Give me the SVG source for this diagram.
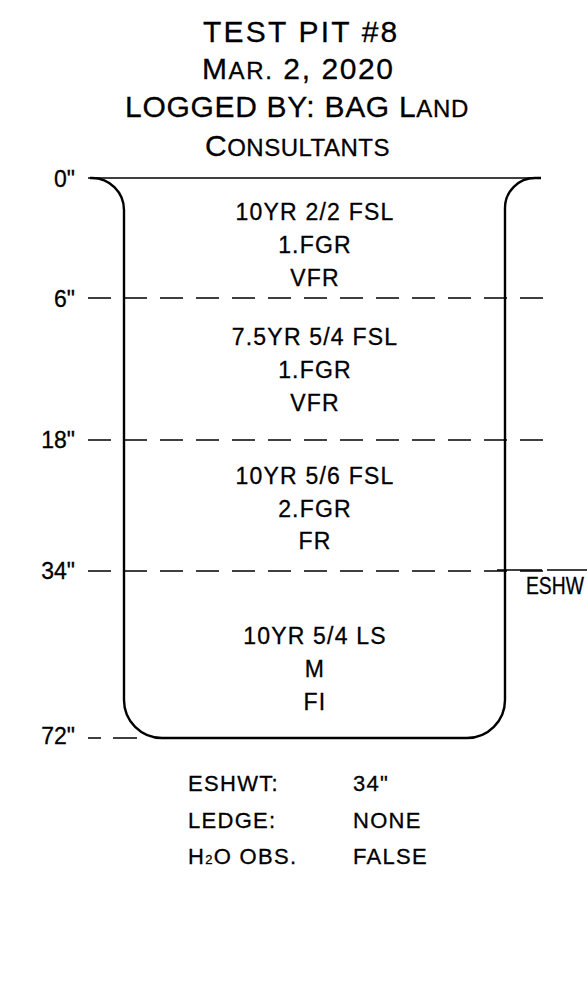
<svg xmlns="http://www.w3.org/2000/svg" width="587" height="991" viewBox="0 0 587 991">
<style>
  text { font-family: "Liberation Sans", Arial, sans-serif; fill: #000; stroke: #000; stroke-width: 0.3px; }
  .title { font-size: 30px; }
  .sc { font-size: 24px; }
  .depth { font-size: 23px; text-anchor: end; }
  .body { font-size: 23px; text-anchor: middle; letter-spacing: 1.2px; }
  .info { font-size: 22px; letter-spacing: 1.3px; }
  .wall { fill: none; stroke: #000; stroke-width: 2.4; }
  .top { fill: none; stroke: #000; stroke-width: 1.6; }
  .dash { fill: none; stroke: #000; stroke-width: 1.6; stroke-dasharray: 23 13; }
</style>
<rect width="587" height="991" fill="#fff"/>
<g id="title">
  <text class="title" x="203" y="42" letter-spacing="2.2">TEST PIT #8</text>
  <text class="title" x="202" y="79" letter-spacing="1.6">M<tspan class="sc">AR.</tspan> 2, 2020</text>
  <text class="title" x="125" y="117" letter-spacing="0.7">LOGGED BY: BAG L<tspan class="sc">AND</tspan></text>
  <text class="title" x="205" y="156" letter-spacing="0.5">C<tspan class="sc">ONSULTANTS</tspan></text>
</g>
<g id="depth-scale">
  <text class="depth" x="75" y="187">0"</text>
  <text class="depth" x="75" y="307">6"</text>
  <text class="depth" x="75" y="448">18"</text>
  <text class="depth" x="75" y="579">34"</text>
  <text class="depth" x="75" y="744">72"</text>
</g>
<g id="connectors">
  <line class="top" x1="88" y1="178" x2="541" y2="178"/>
  <line class="dash" x1="88" y1="298" x2="543" y2="298"/>
  <line class="dash" x1="88" y1="440" x2="543" y2="440"/>
  <line class="dash" x1="88" y1="571" x2="543" y2="571"/>
  <path class="top" d="M88,738 H101 M113,738 H137"/>
</g>
<g id="pit">
  <path class="wall" d="M90,178 H92 A32,32 0 0 1 124,210 V700 A38,38 0 0 0 162,738 H467 A38,38 0 0 0 505,700 V208 A30,30 0 0 1 535,178 H541"/>
</g>
<g id="layer-1">
  <text class="body" x="315" y="220">10YR 2/2 FSL</text>
  <text class="body" x="315" y="253">1.FGR</text>
  <text class="body" x="315" y="286">VFR</text>
</g>
<g id="layer-2">
  <text class="body" x="315" y="345">7.5YR 5/4 FSL</text>
  <text class="body" x="315" y="378">1.FGR</text>
  <text class="body" x="315" y="411">VFR</text>
</g>
<g id="layer-3">
  <text class="body" x="315" y="484">10YR 5/6 FSL</text>
  <text class="body" x="315" y="517">2.FGR</text>
  <text class="body" x="315" y="549">FR</text>
</g>
<g id="layer-4">
  <text class="body" x="315" y="644">10YR 5/4 LS</text>
  <text class="body" x="315" y="677">M</text>
  <text class="body" x="315" y="710">FI</text>
</g>
<g id="eshwt-marker">
  <path class="top" d="M497,570 H542 M547,570 H587"/>
  <text transform="translate(526,594) scale(0.84,1)" font-size="23">ESHW</text>
</g>
<g id="summary">
  <text class="info" x="188" y="791">ESHWT:</text>
  <text class="info" x="353" y="791">34"</text>
  <text class="info" x="188" y="828">LEDGE:</text>
  <text class="info" x="353" y="828">NONE</text>
  <text class="info" x="188" y="864">H<tspan font-size="13">2</tspan>O OBS.</text>
  <text class="info" x="353" y="864">FALSE</text>
</g>
</svg>
